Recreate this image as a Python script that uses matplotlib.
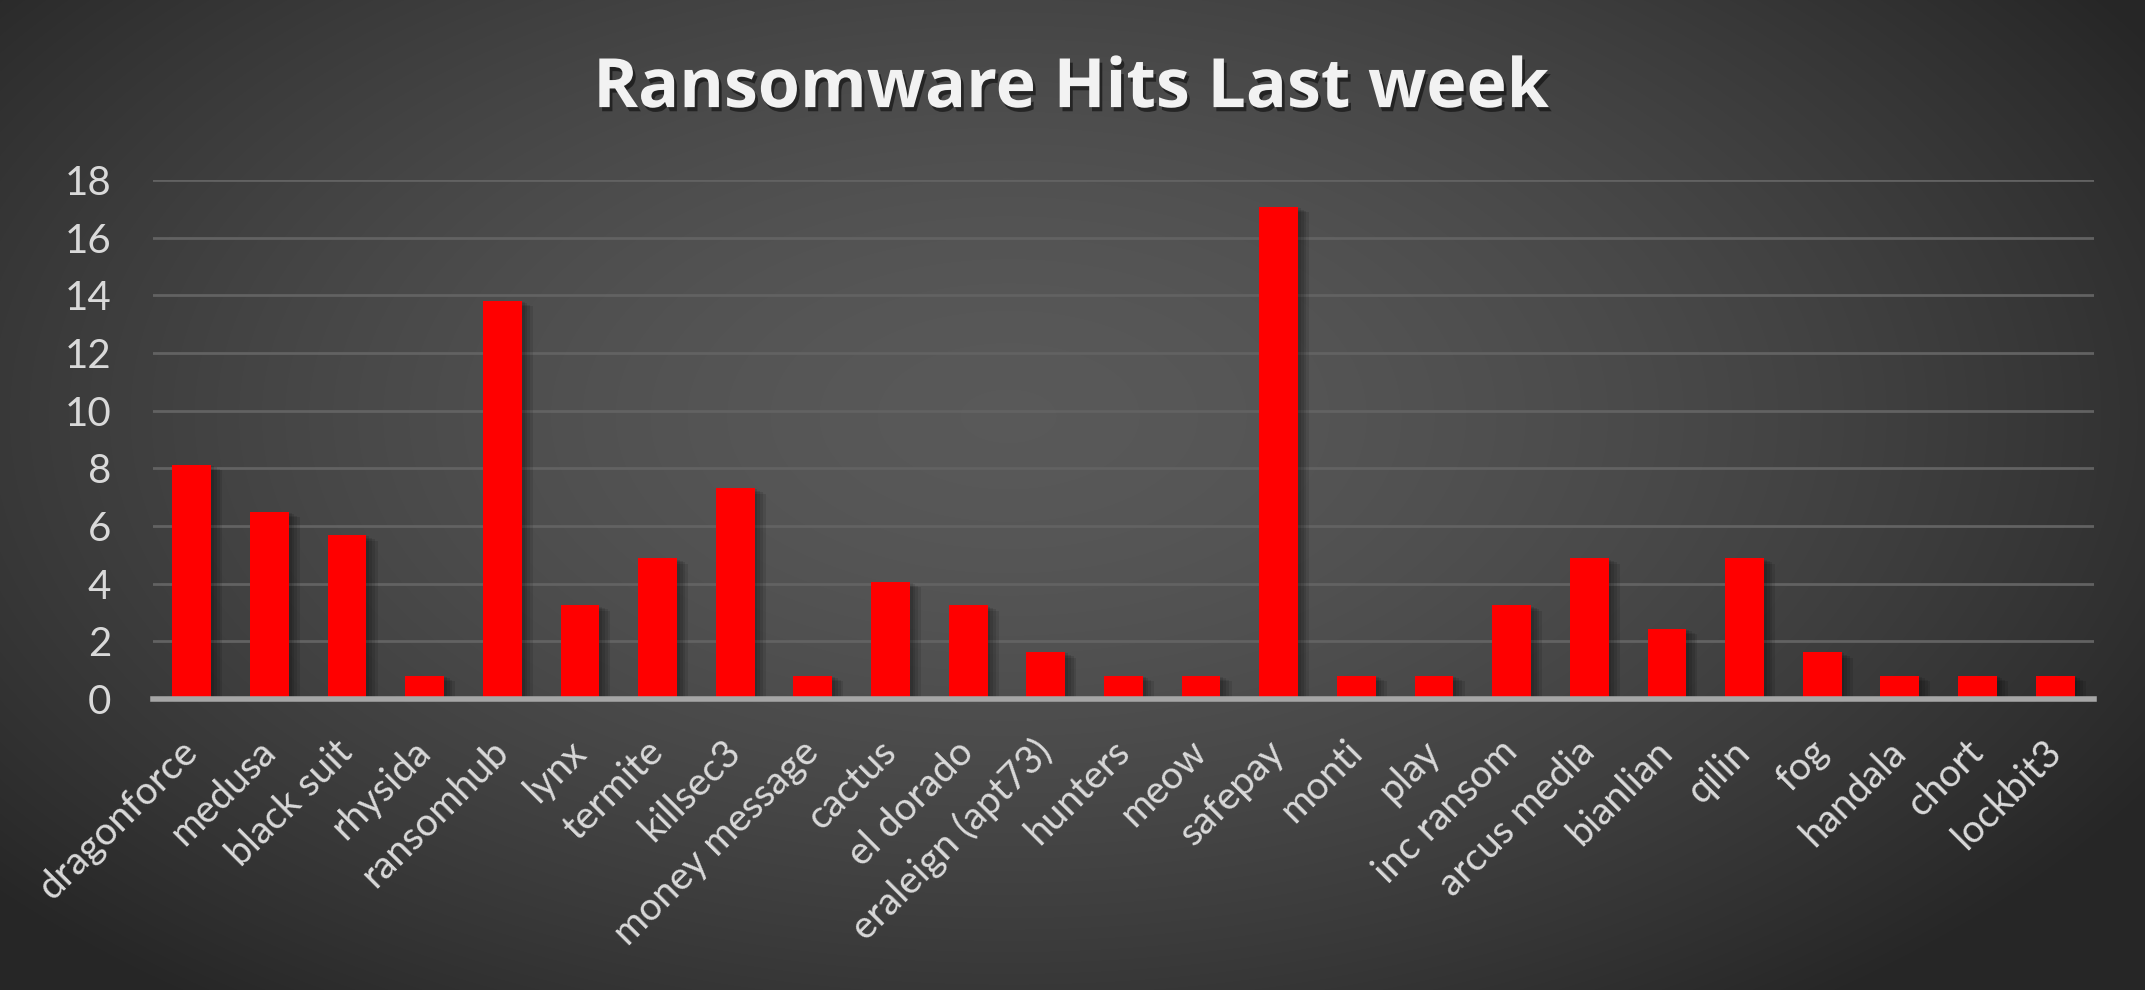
import matplotlib
matplotlib.use("Agg")
import matplotlib.pyplot as plt
import matplotlib.patheffects as pe
import numpy as np

# data (share of hits, %)
groups = ["dragonforce", "medusa", "black suit", "rhysida", "ransomhub", "lynx",
          "termite", "killsec3", "money message", "cactus", "el dorado",
          "eraleign (apt73)", "hunters", "meow", "safepay", "monti", "play",
          "inc ransom", "arcus media", "bianlian", "qilin", "fog", "handala",
          "chort", "lockbit3"]
hits = [8.13, 6.50, 5.69, 0.81, 13.82, 3.25, 4.88, 7.32, 0.81, 4.07, 3.25,
        1.63, 0.81, 0.81, 17.07, 0.81, 0.81, 3.25, 4.88, 2.44, 4.88, 1.63,
        0.81, 0.81, 0.81]
yticks = [0, 2, 4, 6, 8, 10, 12, 14, 16, 18]

plt.rcParams['font.family'] = ['Lato', 'DejaVu Sans']

W, H = 2145, 990
fig = plt.figure(figsize=(W / 100, H / 100), dpi=100)

# radial grey background
bg = fig.add_axes([0, 0, 1, 1], zorder=0)
yy, xx = np.mgrid[0:H, 0:W]
r = np.sqrt(((xx - W * 0.47) / (W * 0.62)) ** 2 + ((yy - H * 0.42) / (H * 0.75)) ** 2)
shade = np.clip(0.35 - 0.2 * r ** 1.6, 0.15, 1)
bg.imshow(np.dstack([shade] * 3), aspect='auto', extent=[0, 1, 0, 1])
bg.axis('off')

ax = fig.add_axes([0.0713, 0.2939, 0.9049, 0.5243], zorder=1)
ax.set_facecolor('none')

x = np.arange(len(groups))
bars = ax.bar(x, hits, width=0.5, color='#FF0000', zorder=3)
# soft shadow from a few faint offset copies
shadow = [pe.SimplePatchShadow(offset=(dx, -dy), shadow_rgbFace='black', alpha=0.1)
          for dx, dy in [(2, 1), (4, 2), (6, 3), (8, 4)]]
for b in bars:
    b.set_path_effects(shadow + [pe.Normal()])

ax.set_xlim(-0.5, len(groups) - 0.5)
ax.set_ylim(0, 18)
ax.set_yticks(yticks)
ax.grid(axis='y', color='#626262', linewidth=2, zorder=1)
for s in ['top', 'right', 'left']:
    ax.spines[s].set_visible(False)
ax.spines['bottom'].set_color('#A6A6A6')
ax.spines['bottom'].set_linewidth(4)
ax.spines['bottom'].set_zorder(4)

ax.tick_params(axis='y', length=0, pad=30, labelsize=29, labelcolor='#D9D9D9')
ax.tick_params(axis='x', length=0, pad=34, labelsize=28, labelcolor='#D9D9D9')
ax.set_xticks(x)
ax.set_xticklabels(groups, rotation=45, ha='right', va='center', rotation_mode='anchor')

fig.text(0.499, 0.91, "Ransomware Hits Last week", ha='center', va='center',
         fontsize=49, fontweight='bold', color='#F2F2F2', family=['Open Sans', 'DejaVu Sans'],
         path_effects=[pe.SimplePatchShadow(offset=(2, -3), shadow_rgbFace='black', alpha=0.5),
                       pe.Normal()])

fig.savefig("out.png", dpi=100)
